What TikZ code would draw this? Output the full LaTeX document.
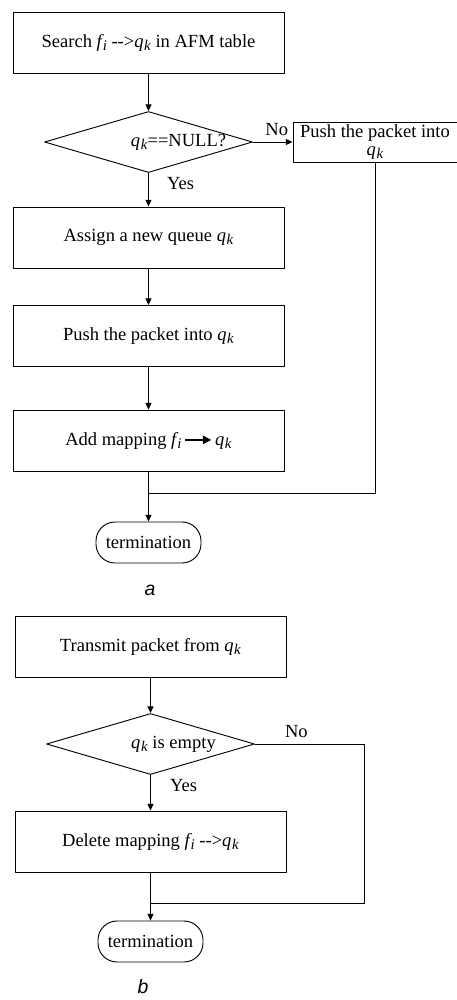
\documentclass[tikz,border=0pt]{standalone}
\usepackage{fontspec}
\setmainfont{Liberation Serif}
\setsansfont{Liberation Sans}
\usetikzlibrary{shapes.geometric,arrows.meta}

\def\pxu{0.54pt} %one pixel of the original drawing
\newcommand{\qk}{\textit{q}\kern0.3pt\raisebox{-0.35ex}{\footnotesize\textit{k}}} %queue q_k
\newcommand{\fsub}{\textit{f}\kern-0.6pt\raisebox{-0.35ex}{\footnotesize\textit{i}}} %flow f_i
\newcommand{\maparrow}{\tikz[baseline=-0.6ex]\draw[line width=0.8pt,-{Triangle[length=4.5pt,width=4.5pt]}] (0,0) -- (1.4em,0);}

\begin{document}
\begin{tikzpicture}[line cap=round,line join=round,>={Triangle[length=3.6pt,width=3.2pt]},x=0.54pt,y=-0.54pt,
  font=\fontsize{10}{11}\selectfont,line width=0.5pt]

\tikzset{
  procbox/.style={draw,rectangle,minimum width=271*\pxu,minimum height=61*\pxu,inner sep=0pt},
  decision/.style={draw,diamond,minimum width=208*\pxu,minimum height=61*\pxu,inner sep=0pt},
  stopbox/.style={draw,rectangle,rounded corners=19*\pxu,minimum width=105*\pxu,minimum height=41*\pxu,inner sep=0pt},
  tag/.style={font=\sffamily\itshape\fontsize{10.5}{12}\selectfont,inner sep=0pt}
}

\useasboundingbox (0,0) rectangle (457,1000);

%flow a: packet arrives
\node[procbox] (search) at (148.5,43) {Search \fsub\ -{}-{}>\qk\ in AFM table};
\node[decision,label={[xshift=30*\pxu]center:\qk==NULL?}] (isnull) at (148.5,142) {};
\node[draw,rectangle,minimum width=164*\pxu,minimum height=40*\pxu,inner sep=0pt,align=center] (pushno) at (375,142) {Push the packet into\\[-1.4pt]\qk};
\node[procbox] (assign) at (148.5,237.5) {Assign a new queue \qk};
\node[procbox] (pushyes) at (148.5,336) {Push the packet into \qk};
\node[procbox] (addmap) at (148.5,440.5) {Add mapping \fsub\,\maparrow\,\qk};
\node[stopbox] (stopa) at (148.5,542.5) {termination};
\node[tag] (capa) at (150,590) {a};
\coordinate (joina) at (148.5,493);

\draw[->] (search) -- (isnull);
\draw[->] (isnull) -- node[above,pos=0.6] {No} (pushno);
\draw[->] (isnull) -- node[right=12*\pxu,pos=0.3] {Yes} (assign);
\draw[->] (assign) -- (pushyes);
\draw[->] (pushyes) -- (addmap);
\draw[->] (addmap) -- (stopa);
\draw (pushno) |- (joina);

%flow b: packet leaves
\node[procbox] (transmit) at (150.5,646.5) {Transmit packet from \qk};
\node[decision,label={[xshift=23*\pxu]center:\qk\ is empty}] (isempty) at (150.5,744) {};
\node[procbox] (delmap) at (150.5,841.5) {Delete mapping \fsub\ -{}-{}>\qk};
\node[stopbox] (stopb) at (150.5,941.5) {termination};
\node[tag] (capb) at (143,987) {b};
\coordinate (corner) at (364,744);
\coordinate (joinb) at (150.5,903);

\draw[->] (transmit) -- (isempty);
\draw (isempty.east) -- node[above,pos=0.38] {No} (corner) |- (joinb);
\draw[->] (isempty) -- node[right=13*\pxu,pos=0.3] {Yes} (delmap);
\draw[->] (delmap) -- (stopb);

\end{tikzpicture}
\end{document}
